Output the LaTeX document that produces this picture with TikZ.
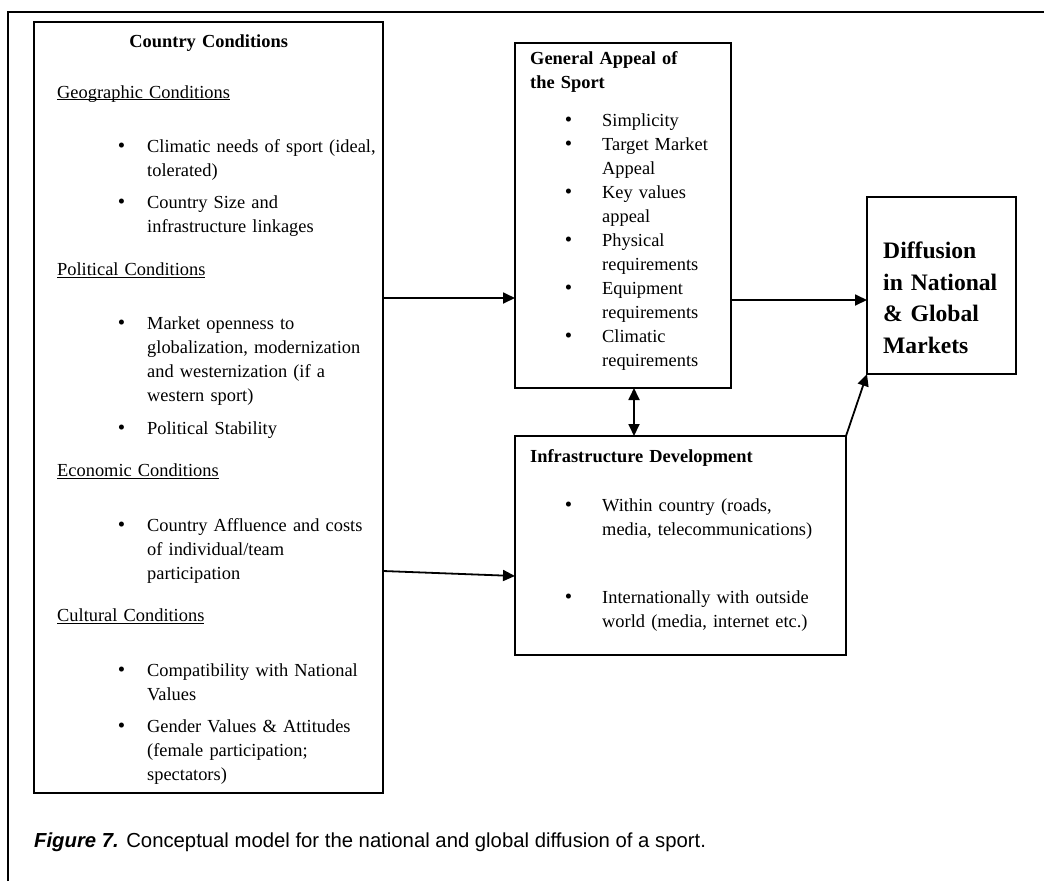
\documentclass[tikz,border=0pt]{standalone}
\usepackage{fontspec}
\setmainfont{Liberation Serif}
\newfontfamily\capfont{Liberation Sans}
\usetikzlibrary{positioning, arrows.meta}

\newlength\bulindent
\newlength\bulgap
\newcommand{\bitem}[1]{{\leftskip=\bulindent\noindent\llap{{\fontsize{21}{24}\selectfont\textbullet}\hspace{\bulgap}}#1\par}}
\newcommand{\subhead}[1]{{\noindent\setbox0=\hbox{#1}\rlap{\rule[-2.2pt]{\wd0}{0.9pt}}\box0\par}}

\begin{document}
\begin{tikzpicture}[
    x=1pt, y=-1pt,
    font=\fontsize{18.4}{24}\selectfont,
    >={Triangle[length=12pt, width=11pt]},
    panel/.style={rectangle, draw, line width=1.3pt, inner sep=0pt, outer sep=0pt, anchor=north west},
    txt/.style={inner sep=0pt, align=left, anchor=north west,
                execute at begin node={\parskip=0pt\setlength\bulindent{72pt}\setlength\bulgap{30pt}}},
    arrow/.style={->, line width=1.8pt},
    frame/.style={line width=2pt}
]
\useasboundingbox (0,0) rectangle (1044,881);

% --- page frame ---
\draw[frame] (8,881) -- (8,12) -- (1044,12);

% --- boxes ---
\node[panel, minimum width=349pt, minimum height=771pt] (country) at (34,22) {};
\node[panel, minimum width=216pt, minimum height=345pt,
      below right=21pt and 132pt of country.north east] (appeal) {};
\node[panel, minimum width=331pt, minimum height=219pt,
      below=48pt of appeal.south west, anchor=north west] (infra) {};
\node[panel, minimum width=149pt, minimum height=177pt,
      below right=154pt and 136pt of appeal.north east] (diffusion) {};

% --- box texts ---
\node[txt, text width=320pt, below right=12.7pt and 23pt of country.north west] (countrytext) {%
  \setlength\bulindent{90pt}\setlength\bulgap{22pt}%
  \parbox{303pt}{\centering\bfseries Country Conditions}\par
  \vspace{26.5pt}
  \subhead{Geographic Conditions}
  \vspace{30.5pt}
  \bitem{Climatic needs of sport (ideal,\\tolerated)}
  \vspace{8.4pt}
  \bitem{Country Size and\\infrastructure linkages}
  \vspace{18.5pt}
  \subhead{Political Conditions}
  \vspace{30.5pt}
  \bitem{Market openness to\\globalization, modernization\\and westernization (if a\\western sport)}
  \vspace{8.4pt}
  \bitem{Political Stability}
  \vspace{18.5pt}
  \subhead{Economic Conditions}
  \vspace{30.5pt}
  \bitem{Country Affluence and costs\\of individual/team\\participation}
  \vspace{18.5pt}
  \subhead{Cultural Conditions}
  \vspace{30.5pt}
  \bitem{Compatibility with National\\Values}
  \vspace{8.4pt}
  \bitem{Gender Values \& Attitudes\\(female participation;\\spectators)}};

\node[txt, text width=200pt, below right=8.6pt and 15pt of appeal.north west] (appealtext) {%
  {\bfseries General Appeal of\\the Sport\par}
  \vspace{14pt}
  \bitem{Simplicity}
  \bitem{Target Market\\Appeal}
  \bitem{Key values\\appeal}
  \bitem{Physical\\requirements}
  \bitem{Equipment\\requirements}
  \bitem{Climatic\\requirements}};

\node[txt, text width=315pt, below right=13.6pt and 15pt of infra.north west] (infratext) {%
  {\bfseries Infrastructure Development\par}
  \vspace{25pt}
  \bitem{Within country (roads,\\media, telecommunications)}
  \vspace{44pt}
  \bitem{Internationally with outside\\world (media, internet etc.)}};

\node[txt, text width=130pt, font=\fontsize{23.6}{31.5}\selectfont\bfseries,
      below right=44.7pt and 16pt of diffusion.north west] (diffusiontext) {%
  Diffusion\\in National\\\& Global\\Markets};

% --- arrows ---
\draw[arrow] ([yshift=109.5pt]country.east) -- ([yshift=-82.5pt]appeal.west);
\draw[arrow] ([yshift=-163.5pt]country.east) -- ([yshift=-30.5pt]infra.west);
\draw[arrow] ([yshift=-84.5pt]appeal.east) -- ([yshift=-14.5pt]diffusion.west);
\draw[<->, line width=1.8pt] ([xshift=11pt]appeal.south) -- ([xshift=11pt]appeal.south |- infra.north);
\draw[arrow] (infra.north east) -- (diffusion.south west);

% --- caption ---
\node[anchor=base west, inner sep=0pt, font=\capfont\fontsize{20.3}{22}\selectfont] (caption) at (34,847)
  {\textbf{\textit{Figure 7.}} Conceptual model for the national and global diffusion of a sport.};

\end{tikzpicture}
\end{document}
